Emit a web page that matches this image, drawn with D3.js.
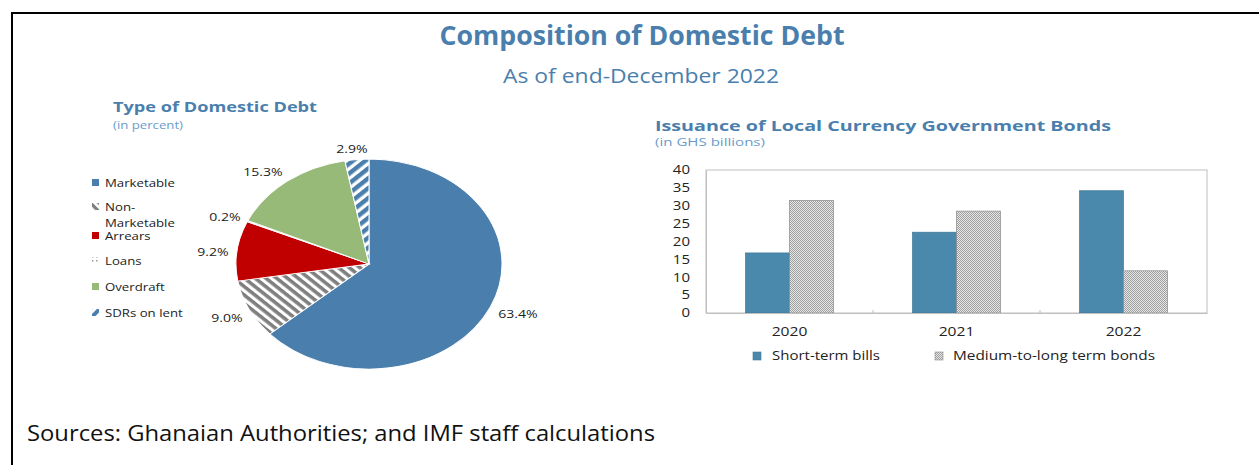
<!DOCTYPE html>
<html><head><meta charset="utf-8">
<script src="https://cdn.jsdelivr.net/npm/d3@7"></script>
<style>body{margin:0;background:#fff}svg{display:block}</style>
</head><body>
<script>
// Pie data
const pieCategories = ["Marketable","Non-Marketable","Arrears","Loans","Overdraft","SDRs on lent"];
const pieValues = [63.4, 9.0, 9.2, 0.2, 15.3, 2.9];
const pieLabels = ["63.4%","9.0%","9.2%","0.2%","15.3%","2.9%"];
// Bar data
const barYears = ["2020","2021","2022"];
const barSeries = ["Short-term bills","Medium-to-long term bonds"];
const shortTermBills = [16.8, 22.6, 34.2];
const mediumLongBonds = [31.5, 28.5, 11.8];
const yTicks = [0,5,10,15,20,25,30,35,40];

const W=1259,H=465;
const FONT="'Open Sans','Noto Sans',sans-serif";
const svg=d3.select("body").append("svg").attr("width",W).attr("height",H).style("font-family",FONT);
const defs=svg.append("defs");

// horizontal stretch helpers (reference is rendered with a wider face)
function fitW(sel,w){sel.attr("textLength",w).attr("lengthAdjust","spacingAndGlyphs");return sel;}
function stretch(sel,f){sel.each(function(){const L=this.getComputedTextLength();d3.select(this).attr("textLength",L*f).attr("lengthAdjust","spacingAndGlyphs");});return sel;}

// patterns
const p1=defs.append("pattern").attr("id","nonmkt").attr("width",6).attr("height",6).attr("patternUnits","userSpaceOnUse").attr("patternTransform","rotate(45)");
p1.append("rect").attr("width",6).attr("height",6).attr("fill","#fff");
p1.append("rect").attr("width",6).attr("height",3.2).attr("fill","#7f7f7f");
const p2=defs.append("pattern").attr("id","sdr").attr("width",7).attr("height",7).attr("patternUnits","userSpaceOnUse").attr("patternTransform","rotate(-45)");
p2.append("rect").attr("width",7).attr("height",7).attr("fill","#fff");
p2.append("rect").attr("width",7).attr("height",4).attr("fill","#4a7fad");
const p3=defs.append("pattern").attr("id","loans").attr("width",4).attr("height",4).attr("patternUnits","userSpaceOnUse");
p3.append("rect").attr("width",4).attr("height",4).attr("fill","#fff");
p3.append("rect").attr("width",1.5).attr("height",1.5).attr("fill","#999");
const p4=defs.append("pattern").attr("id","dots").attr("width",2).attr("height",2).attr("patternUnits","userSpaceOnUse");
p4.append("rect").attr("width",2).attr("height",2).attr("fill","#e6e6e6");
p4.append("rect").attr("width",1).attr("height",1).attr("fill","#a0a0a0");
p4.append("rect").attr("x",1).attr("y",1).attr("width",1).attr("height",1).attr("fill","#a0a0a0");

const pieFills=["#4a7fad","url(#nonmkt)","#c00000","url(#loans)","#98ba79","url(#sdr)"];

// frame
svg.append("line").attr("x1",12).attr("x2",W).attr("y1",13).attr("y2",13).attr("stroke","#000").attr("stroke-width",2);
svg.append("line").attr("x1",12).attr("x2",12).attr("y1",12).attr("y2",H).attr("stroke","#000").attr("stroke-width",2);

// titles
fitW(svg.append("text").attr("x",642).attr("y",45).attr("text-anchor","middle").attr("font-size",26).attr("font-weight",700).attr("fill","#4a7fad").text("Composition of Domestic Debt"),405);
fitW(svg.append("text").attr("x",641).attr("y",83).attr("text-anchor","middle").attr("font-size",20).attr("fill","#4a7fad").text("As of end-December 2022"),276);
fitW(svg.append("text").attr("x",27).attr("y",441).attr("font-size",21).attr("fill","#111").text("Sources: Ghanaian Authorities; and IMF staff calculations"),628);

// Pie panel
fitW(svg.append("text").attr("x",113).attr("y",112).attr("font-size",15).attr("font-weight",700).attr("fill","#4a7fad").text("Type of Domestic Debt"),204);
fitW(svg.append("text").attr("x",113).attr("y",129).attr("font-size",11).attr("fill","#6a9ccb").text("(in percent)"),70);

const cx=369,cy=264,ry=105,sx=133/105;
const pie=d3.pie().sort(null).value(d=>d)(pieValues);
const arc=d3.arc().innerRadius(0).outerRadius(ry);
const pg=svg.append("g").attr("transform",`translate(${cx},${cy}) scale(${sx},1)`);
pg.selectAll("path").data(pie).join("path").attr("d",arc).attr("fill",(d,i)=>pieFills[i]).attr("stroke","#fff").attr("stroke-width",0.8);

const labelPos=[[518,318],[227,322],[213,256],[225,221],[263,176],[352,153]];
stretch(svg.selectAll(".pl").data(pieLabels).join("text").attr("class","pl")
 .attr("x",(d,i)=>labelPos[i][0]).attr("y",(d,i)=>labelPos[i][1]).attr("text-anchor","middle")
 .attr("font-size",11.5).attr("fill","#222").text(d=>d),1.22);

const legRows=[183,207,236,261,287,313];
const lg=svg.append("g");
pieCategories.forEach((c,i)=>{
  const y=legRows[i];
  lg.append("rect").attr("x",92).attr("y",y-4).attr("width",7).attr("height",7).attr("fill",pieFills[i]);
  if(c==="Non-Marketable"){
    lg.append("text").attr("x",105).attr("y",y+4).attr("font-size",11).attr("fill","#222").text("Non-");
    lg.append("text").attr("x",105).attr("y",y+20).attr("font-size",11).attr("fill","#222").text("Marketable");
  } else {
    lg.append("text").attr("x",105).attr("y",y+4).attr("font-size",11).attr("fill","#222").text(c);
  }
});
stretch(lg.selectAll("text"),1.2);

// Bar panel
fitW(svg.append("text").attr("x",655).attr("y",131).attr("font-size",15).attr("font-weight",700).attr("fill","#4a7fad").text("Issuance of Local Currency Government Bonds"),456);
fitW(svg.append("text").attr("x",655).attr("y",146).attr("font-size",11).attr("fill","#6a9ccb").text("(in GHS billions)"),110);

const x0=706,x1=1207,yTop=170,yBot=313;
const x=d3.scaleBand().domain(barYears).range([x0,x1]).paddingInner(0).paddingOuter(0);
const xs=d3.scaleBand().domain(barSeries).range([0,x.bandwidth()]).paddingInner(0).paddingOuter(0.9);
const y=d3.scaleLinear().domain([0,40]).range([yBot,yTop]);

const bg=svg.append("g");
bg.append("rect").attr("x",x0).attr("y",yTop).attr("width",x1-x0).attr("height",yBot-yTop).attr("fill","none").attr("stroke","#bfbfbf");
const barColors=["#4a89ab","url(#dots)"];
const vals=[shortTermBills,mediumLongBonds];
barYears.forEach((yr,i)=>{
  barSeries.forEach((s,j)=>{
    bg.append("rect").attr("x",x(yr)+xs(s)).attr("y",y(vals[j][i])).attr("width",xs.bandwidth()).attr("height",yBot-y(vals[j][i]))
      .attr("fill",barColors[j]).attr("stroke",j===0?"#3e7796":"#8a8a8a").attr("stroke-width",0.7);
  });
});
// axes
const yAxis=d3.axisLeft(y).tickValues(yTicks).tickSize(0).tickPadding(16);
const ya=bg.append("g").attr("transform",`translate(${x0},0)`).call(yAxis);
ya.select(".domain").attr("stroke","#bfbfbf");
ya.selectAll("text").attr("font-size",12).attr("font-family",FONT).attr("fill","#222");
stretch(ya.selectAll("text"),1.25);
const xAxis=d3.axisBottom(x).tickSize(0).tickPadding(14);
const xa=bg.append("g").attr("transform",`translate(0,${yBot})`).call(xAxis);
xa.select(".domain").attr("stroke","#bfbfbf");
xa.selectAll("text").attr("font-size",12).attr("font-family",FONT).attr("fill","#222");
stretch(xa.selectAll("text"),1.3);
// category separator ticks
barYears.slice(1).forEach(yr=>{
  bg.append("line").attr("x1",x(yr)).attr("x2",x(yr)).attr("y1",yBot-3).attr("y2",yBot).attr("stroke","#bfbfbf");
});
// bar legend
const bl=[[753,772,108],[935,953,202]];
barSeries.forEach((s,j)=>{
  bg.append("rect").attr("x",bl[j][0]).attr("y",352).attr("width",8).attr("height",8).attr("fill",barColors[j]).attr("stroke",j===0?"#3e7796":"#8a8a8a").attr("stroke-width",0.6);
  fitW(bg.append("text").attr("x",bl[j][1]).attr("y",360).attr("font-size",12).attr("fill","#222").text(s),bl[j][2]);
});
</script>
</body></html>
